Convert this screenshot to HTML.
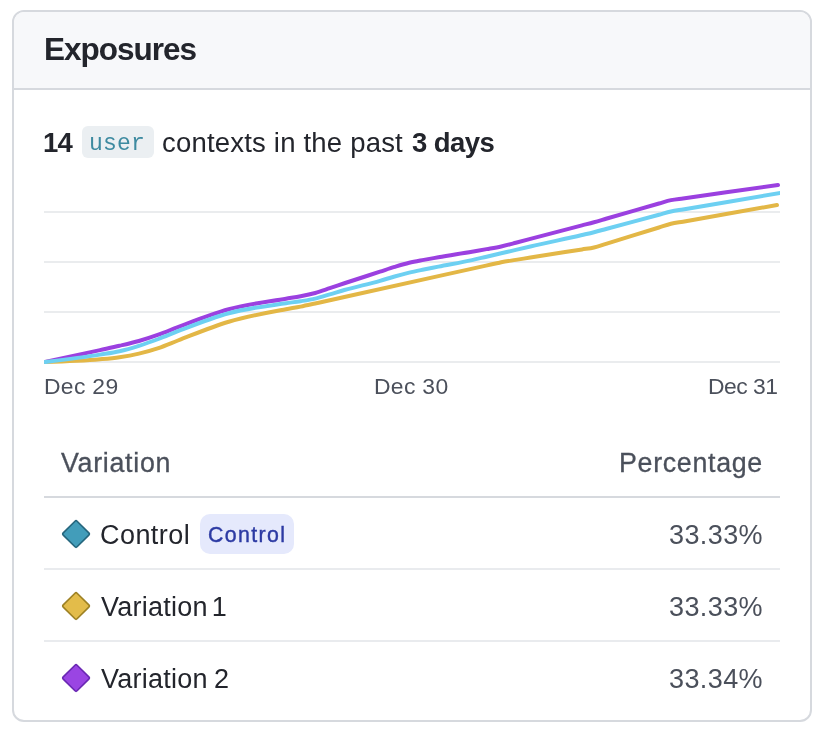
<!DOCTYPE html>
<html>
<head>
<meta charset="utf-8">
<title>Exposures</title>
<style>
  html, body { margin: 0; padding: 0; }
  body {
    width: 822px; height: 732px; overflow: hidden; background: #ffffff;
    font-family: "Liberation Sans", sans-serif; color: #23252c; position: relative;
  }
  .t { will-change: transform; position: absolute; white-space: nowrap; line-height: 1; font-family: "Liberation Sans", sans-serif; }
  .mono { font-family: "Liberation Mono", monospace; }
  .b { font-weight: 700; }
  .c-pri { color: #23252c; }
  .c-sec { color: #4b505b; }
  .c-code { color: #3d8aa0; }
  .c-badge { color: #2c3aa3; }
  .card {
    position: absolute; left: 12px; top: 10px; width: 796px; height: 708px;
    border: 2px solid #d6d9de; border-radius: 12px; background: #ffffff; overflow: hidden;
  }
  .card-head {
    position: absolute; left: 0; top: 0; right: 0; height: 76px;
    background: #f7f8fa; border-bottom: 2px solid #d6d9de;
  }
  .chip { position: absolute; left: 82px; top: 126px; width: 72px; height: 32px; background: #ebeff2; border-radius: 6px; }
  .badge { position: absolute; left: 200px; top: 514px; width: 94px; height: 40px; background: #e5e9fc; border-radius: 10px; }
  .hr { position: absolute; left: 44px; width: 736px; height: 2px; background: #e9ebee; }
  .hr.strong { background: #d6d9de; }
  svg { position: absolute; }
  svg.chart { left: 0; top: 170px; }
</style>
</head>
<body>
  <div class="card"><div class="card-head"></div></div>
  <div class="chip"></div>
  <div class="badge"></div>

  <svg class="chart" width="822" height="200" viewBox="0 170 822 200">
    <g stroke="#eaecee" stroke-width="2">
      <line x1="44" y1="212" x2="780" y2="212"/>
      <line x1="44" y1="262" x2="780" y2="262"/>
      <line x1="44" y1="312" x2="780" y2="312"/>
      <line x1="44" y1="362" x2="780" y2="362"/>
    </g>
    <defs><clipPath id="cp"><rect x="44" y="170" width="736" height="196"/></clipPath></defs>
    <g fill="none" stroke-width="4" stroke-linecap="round" stroke-linejoin="round" clip-path="url(#cp)">
      <path stroke="#9b40e0" d="M45.00 362.00 C63.33 358.06 81.67 354.12 100.00 350.10 C106.50 348.67 113.00 347.32 119.50 345.80 C125.97 344.29 132.43 342.85 138.90 341.00 C145.40 339.14 151.90 336.97 158.40 334.65 C164.90 332.33 171.40 329.55 177.90 327.10 C194.85 320.71 211.80 313.92 228.75 309.30 C247.83 304.09 266.92 301.89 286.00 298.66 C290.87 297.84 295.73 297.20 300.60 296.25 C305.47 295.30 310.33 294.30 315.20 292.96 C320.07 291.62 324.93 289.82 329.80 288.20 C334.67 286.58 339.53 284.89 344.40 283.26 C356.27 279.29 368.13 275.55 380.00 271.70 C384.87 270.12 389.73 268.44 394.60 266.96 C399.47 265.48 404.33 263.98 409.20 262.80 C414.07 261.62 418.93 260.82 423.80 259.90 C428.67 258.98 433.53 258.12 438.40 257.26 C449.60 255.29 460.80 253.63 472.00 251.70 C476.87 250.86 481.73 250.03 486.60 249.15 C491.47 248.28 496.33 247.51 501.20 246.45 C506.07 245.39 510.93 244.06 515.80 242.80 C520.67 241.54 525.53 240.20 530.40 238.90 C547.60 234.32 564.80 229.82 582.00 225.33 C586.00 224.29 590.00 223.29 594.00 222.20 C598.00 221.10 602.00 219.91 606.00 218.76 C623.67 213.69 641.33 208.61 659.00 203.54 C663.00 202.39 667.00 200.95 671.00 200.10 C675.00 199.25 679.00 198.97 683.00 198.41 C714.67 193.95 746.33 189.47 778.00 185.00"/>
      <path stroke="#e3b746" d="M45.00 362.00 C63.33 361.50 81.67 360.99 100.00 359.30 C106.50 358.70 113.00 358.15 119.50 357.20 C125.97 356.25 132.43 355.11 138.90 353.60 C145.40 352.08 151.90 350.28 158.40 348.10 C164.90 345.92 171.40 343.00 177.90 340.50 C194.85 333.99 211.80 326.81 228.75 321.75 C247.83 316.06 266.92 312.76 286.00 309.20 C290.87 308.29 295.73 307.55 300.60 306.60 C305.47 305.65 310.33 304.55 315.20 303.50 C320.07 302.45 324.93 301.38 329.80 300.30 C334.67 299.22 339.53 298.10 344.40 297.00 C391.60 286.35 438.80 276.08 486.00 265.65 C490.00 264.77 494.00 263.88 498.00 263.00 C499.07 262.77 500.13 262.52 501.20 262.30 C506.07 261.28 510.93 260.69 515.80 259.90 C520.67 259.11 525.53 258.33 530.40 257.55 C547.60 254.79 564.80 252.12 582.00 249.40 C586.00 248.77 590.00 248.43 594.00 247.50 C598.00 246.57 602.00 245.04 606.00 243.81 C623.67 238.38 641.33 232.92 659.00 227.49 C663.00 226.26 667.00 224.77 671.00 223.80 C675.00 222.83 679.00 222.38 683.00 221.67 C714.33 216.11 745.67 210.55 777.00 205.00"/>
      <path stroke="#6dd0f2" d="M45.00 362.00 C63.33 359.80 81.67 357.61 100.00 354.60 C106.50 353.53 113.00 352.67 119.50 351.20 C125.97 349.74 132.43 347.83 138.90 345.80 C145.40 343.76 151.90 341.43 158.40 339.00 C164.90 336.57 171.40 333.72 177.90 331.20 C194.85 324.64 211.80 317.77 228.75 313.20 C247.83 308.05 266.92 305.96 286.00 303.20 C290.87 302.50 295.73 301.97 300.60 301.20 C305.47 300.43 310.33 299.73 315.20 298.60 C320.07 297.47 324.93 295.83 329.80 294.40 C334.67 292.97 339.53 291.41 344.40 290.00 C356.27 286.57 368.13 284.20 380.00 280.80 C384.87 279.41 389.73 277.82 394.60 276.45 C399.47 275.08 404.33 273.76 409.20 272.60 C414.07 271.44 418.93 270.50 423.80 269.50 C428.67 268.50 433.53 267.56 438.40 266.60 C449.60 264.39 460.80 262.57 472.00 260.10 C476.87 259.02 481.73 257.83 486.60 256.70 C491.47 255.57 496.33 254.43 501.20 253.30 C506.07 252.17 510.93 251.04 515.80 249.90 C520.67 248.76 525.53 247.58 530.40 246.45 C547.60 242.44 564.80 239.08 582.00 235.05 C586.00 234.11 590.00 233.21 594.00 232.20 C598.00 231.19 602.00 230.05 606.00 228.97 C623.67 224.22 641.33 219.48 659.00 214.73 C663.00 213.65 667.00 212.38 671.00 211.50 C675.00 210.62 679.00 210.14 683.00 209.46 C718.67 203.40 754.33 197.32 790.00 191.25"/>
    </g>
  </svg>

  <div class="hr strong" style="top:496px"></div>
  <div class="hr" style="top:568px"></div>
  <div class="hr" style="top:640px"></div>

  <svg class="dia" style="left:61px;top:518.8px" width="30" height="30" viewBox="0 0 30 30"><rect x="5.23" y="5.2" width="19.6" height="19.6" rx="1.5" transform="rotate(45 15.03 15)" fill="#429dba" stroke="#25667d" stroke-width="1.6"/></svg>
  <svg class="dia" style="left:61px;top:590.8px" width="30" height="30" viewBox="0 0 30 30"><rect x="5.23" y="5.2" width="19.6" height="19.6" rx="1.5" transform="rotate(45 15.03 15)" fill="#e3bc4a" stroke="#9d8124" stroke-width="1.6"/></svg>
  <svg class="dia" style="left:61px;top:662.8px" width="30" height="30" viewBox="0 0 30 30"><rect x="5.23" y="5.2" width="19.6" height="19.6" rx="1.5" transform="rotate(45 15.03 15)" fill="#9a45e3" stroke="#6a28b3" stroke-width="1.6"/></svg>

  <div class="t b c-pri" style="left:44.0px;top:33.9px;font-size:31.5px;letter-spacing:-1.0px">Exposures</div>
  <div class="t b c-pri" style="left:42.8px;top:128.9px;font-size:27.5px;letter-spacing:-0.8px">14</div>
  <div class="t mono c-code" style="left:89.1px;top:132.8px;font-size:23px;letter-spacing:0.2px">user</div>
  <div class="t c-pri" style="left:162.3px;top:128.9px;font-size:27.5px;letter-spacing:0.2px">contexts in the past</div>
  <div class="t b c-pri" style="left:411.6px;top:128.7px;font-size:27.5px;letter-spacing:-0.56px">3 days</div>
  <div class="t c-sec" style="left:43.8px;top:375.0px;font-size:22.9px;letter-spacing:0.32px">Dec 29</div>
  <div class="t c-sec" style="left:374.4px;top:375.0px;font-size:22.9px;letter-spacing:0.32px">Dec 30</div>
  <div class="t c-sec" style="left:708.4px;top:375.0px;font-size:22.9px;letter-spacing:-0.52px">Dec 31</div>
  <div class="t c-sec" style="left:61.1px;top:449.9px;font-size:26.8px;letter-spacing:0.71px;-webkit-text-stroke:0.3px">Variation</div>
  <div class="t c-sec" style="left:619.4px;top:449.8px;font-size:26.8px;letter-spacing:0.69px;-webkit-text-stroke:0.3px">Percentage</div>
  <div class="t c-pri" style="left:100.0px;top:521.6px;font-size:27px;letter-spacing:0.44px">Control</div>
  <div class="t c-badge" style="left:208.2px;top:524.7px;font-size:21.3px;letter-spacing:1.37px;-webkit-text-stroke:0.4px">Control</div>
  <div class="t c-sec" style="left:669.4px;top:521.6px;font-size:27px;letter-spacing:0.4px">33.33%</div>
  <div class="t c-pri" style="left:101.4px;top:593.6px;font-size:27px;letter-spacing:0.25px;word-spacing:-3.75px">Variation 1</div>
  <div class="t c-sec" style="left:669.4px;top:593.6px;font-size:27px;letter-spacing:0.4px">33.33%</div>
  <div class="t c-pri" style="left:101.4px;top:665.6px;font-size:27px;letter-spacing:0.25px;word-spacing:-1.65px">Variation 2</div>
  <div class="t c-sec" style="left:669.4px;top:665.6px;font-size:27px;letter-spacing:0.4px">33.34%</div>
</body>
</html>
